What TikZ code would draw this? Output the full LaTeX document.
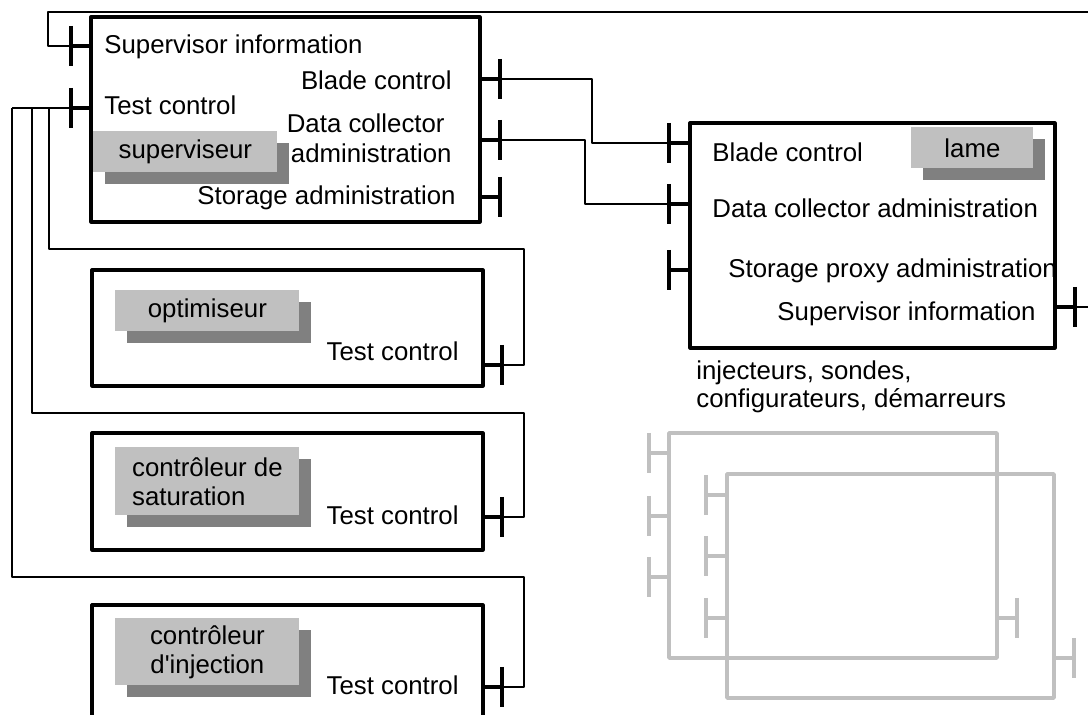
\documentclass[tikz,border=0pt]{standalone}
\usepackage{fontspec}
\setmainfont{Liberation Sans}
\usetikzlibrary{shadows}
\definecolor{clair}{RGB}{192,192,192}
\definecolor{fonce}{RGB}{128,128,128}
\tikzset{
  bloc/.style={draw, line width=1.6pt, inner sep=0pt, outer sep=0pt, anchor=north west},
  fantome/.style={bloc, draw=clair, line width=1.8pt},
  etiquette/.style={fill=clair, inner sep=0pt, anchor=north west, align=center,
    font=\fontsize{12.9pt}{14.5pt}\selectfont,
    drop shadow={shadow xshift=6pt, shadow yshift=-6pt, fill=fonce, opacity=1}},
  texte/.style={inner sep=0pt, font=\fontsize{12.9pt}{14.5pt}\selectfont},
  talon/.style={line width=1.6pt},
  barre/.style={line width=1.6pt},
  fil/.style={line width=0.6pt}
}
\begin{document}
\begin{tikzpicture}[x=0.5pt,y=-0.5pt,line join=round]
			\useasboundingbox (0,0) rectangle (1088,715);
			\clip (0,0) rectangle (1088,715);
			\node[bloc, minimum width=194.5pt, minimum height=102.5pt] (sup) at (91,17) {};
			\node[bloc, minimum width=195.5pt, minimum height=58pt] (opt) at (92,270) {};
			\node[bloc, minimum width=195.5pt, minimum height=58.5pt] (sat) at (92,433) {};
			\node[bloc, minimum width=195.5pt, minimum height=65pt] (inj) at (92,605) {};
			\node[bloc, minimum width=182.5pt, minimum height=112.5pt] (lame) at (690,123) {};
			\node[fantome, minimum width=164pt, minimum height=112.5pt] (fa) at (669,433) {};
			\node[fantome, minimum width=163.5pt, minimum height=112pt] (fb) at (727,474) {};
			\node[etiquette, minimum width=92pt, minimum height=20.5pt] (etSup) at (93,131) {superviseur};
			\node[etiquette, minimum width=92pt, minimum height=20.5pt] (etOpt) at (115,290) {optimiseur};
			\node[etiquette, minimum width=92pt, minimum height=34pt, align=left] (etSat) at (115,447) {contrôleur de\\saturation};
			\node[etiquette, minimum width=92pt, minimum height=33.5pt] (etInj) at (115,618) {contrôleur\\d\textquotesingle injection};
			\node[etiquette, minimum width=61pt, minimum height=20.5pt] (etLame) at (911,127) {lame};
			\node[texte, anchor=base west] (tSupSI) at (104,54) {Supervisor information};
			\node[texte, anchor=base west] (tSupTC) at (104,115) {Test control};
			\node[texte, anchor=base east] (tSupBC) at (452,90) {Blade control};
			\node[texte, anchor=base east] (tSupDC) at (445,133) {Data collector};
			\node[texte, anchor=base east] (tSupDA) at (452,163) {administration};
			\node[texte, anchor=base east] (tSupSA) at (456,205) {Storage administration};
			\node[texte, anchor=base east] (tOptTC) at (459,361) {Test control};
			\node[texte, anchor=base east] (tSatTC) at (459,525) {Test control};
			\node[texte, anchor=base east] (tInjTC) at (459,695) {Test control};
			\node[texte, anchor=base west] (tLameBC) at (712,162) {Blade control};
			\node[texte, anchor=base west] (tLameDC) at (712,218) {Data collector administration};
			\begin{scope}
				\clip (lame.north west) rectangle (lame.south east);
				\node[texte, anchor=base west] (tLameSP) at (728,278) {Storage proxy administration};
			\end{scope}
			\node[texte, anchor=base east] (tLameSI) at (1036,321) {Supervisor information};
			\node[texte, anchor=base west] (tGroupeA) at (696,380) {injecteurs, sondes,};
			\node[texte, anchor=base west] (tGroupeB) at (696,408) {configurateurs, démarreurs};
			\coordinate (supSI) at (91,46);      \coordinate (supSI-b) at (71,46);
			\coordinate (supTC) at (91,108);     \coordinate (supTC-b) at (71,108);
			\coordinate (supBC) at (480,79);     \coordinate (supBC-b) at (500,79);
			\coordinate (supDC) at (480,140);    \coordinate (supDC-b) at (500,140);
			\coordinate (supSA) at (480,197);    \coordinate (supSA-b) at (500,197);
			\coordinate (optTC) at (483,365);    \coordinate (optTC-b) at (502,365);
			\coordinate (satTC) at (483,517);    \coordinate (satTC-b) at (502,517);
			\coordinate (injTC) at (483,687);    \coordinate (injTC-b) at (502,687);
			\coordinate (lameBC) at (690,143);   \coordinate (lameBC-b) at (669,143);
			\coordinate (lameDC) at (690,204);   \coordinate (lameDC-b) at (669,204);
			\coordinate (lameSP) at (690,270);   \coordinate (lameSP-b) at (669,270);
			\coordinate (lameSI) at (1055,307);  \coordinate (lameSI-b) at (1075,307);
			\coordinate (faA) at (669,453);      \coordinate (faA-b) at (649,453);
			\coordinate (faB) at (669,516);      \coordinate (faB-b) at (649,516);
			\coordinate (faC) at (669,577);      \coordinate (faC-b) at (649,577);
			\coordinate (faD) at (997,618);      \coordinate (faD-b) at (1017,618);
			\coordinate (fbA) at (727,495);      \coordinate (fbA-b) at (706,495);
			\coordinate (fbB) at (727,556);      \coordinate (fbB-b) at (706,556);
			\coordinate (fbC) at (727,618);      \coordinate (fbC-b) at (706,618);
			\coordinate (fbD) at (1054,658);     \coordinate (fbD-b) at (1074,658);
			\coordinate (j1) at (49,108);
			\coordinate (j2) at (32,108);
			\coordinate (j3) at (12,108);
			\coordinate (c1) at (524,249);
			\coordinate (c2) at (524,413);
			\coordinate (c3) at (524,577);
			\coordinate (k1) at (592,143);
			\coordinate (k2) at (585,204);
			\coordinate (horsA) at (1095,12);
			\coordinate (horsB) at (1095,307);
			\foreach \p in {supSI,supTC,supBC,supDC,supSA,optTC,satTC,injTC,lameBC,lameDC,lameSP,lameSI}{
				\draw[talon] (\p) -- (\p-b);
				\draw[barre] (\p-b) ++(0,-20) -- ++(0,40);
			}
			\foreach \p in {faA,faB,faC,faD,fbA,fbB,fbC,fbD}{
				\draw[talon, clair, line width=1.8pt] (\p) -- (\p-b);
				\draw[barre, clair, line width=1.8pt] (\p-b) ++(0,-20) -- ++(0,40);
			}
			\draw[fil] (supSI-b) -| (48,12) -- (horsA);
			\draw[fil] (lameSI-b) -- (horsB);
			\draw[fil] (supBC-b) -| (k1) -- (lameBC-b);
			\draw[fil] (supDC-b) -| (k2) -- (lameDC-b);
			\draw[fil] (supTC-b) -- (j3);
			\draw[fil] (j1) |- (c1) |- (optTC-b);
			\draw[fil] (j2) |- (c2) |- (satTC-b);
			\draw[fil] (j3) |- (c3) |- (injTC-b);
		\end{tikzpicture}
\end{document}
